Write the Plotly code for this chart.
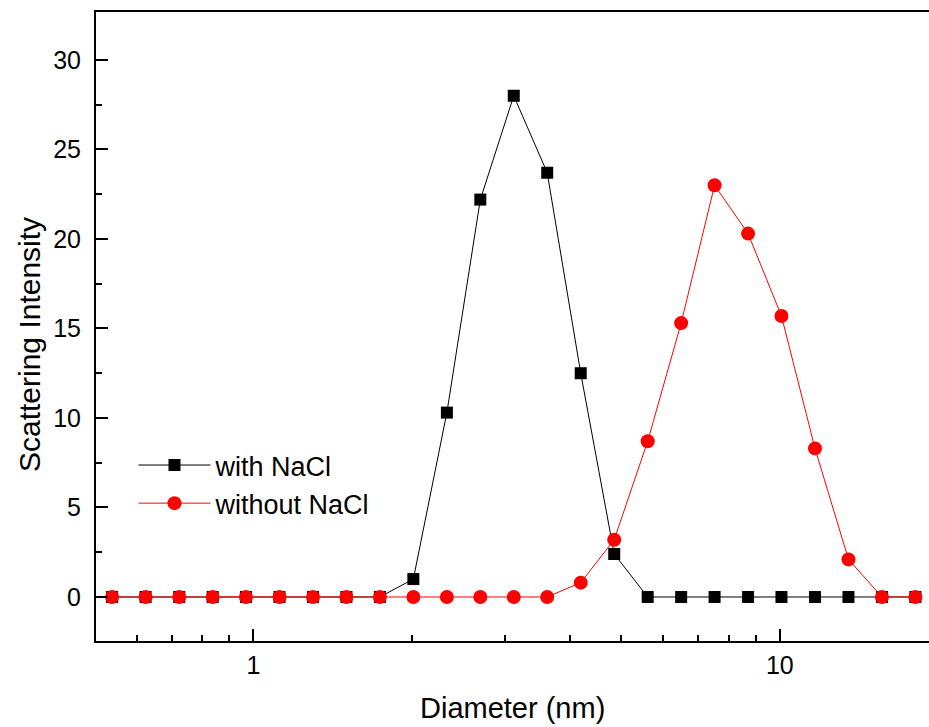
import plotly.graph_objects as go
import numpy as np

# Diameter bins (nm)
diameter = [0.539, 0.624, 0.723, 0.837, 0.968, 1.121, 1.298, 1.502, 1.739, 2.013,
            2.331, 2.698, 3.123, 3.615, 4.186, 4.846, 5.610, 6.494, 7.517, 8.702,
            10.07, 11.66, 13.50, 15.63, 18.09]

with_nacl = [0, 0, 0, 0, 0, 0, 0, 0, 0, 1.0,
             10.3, 22.2, 28.0, 23.7, 12.5, 2.4, 0, 0, 0, 0,
             0, 0, 0, 0, 0]

without_nacl = [0, 0, 0, 0, 0, 0, 0, 0, 0, 0,
                0, 0, 0, 0, 0.8, 3.2, 8.7, 15.3, 23.0, 20.3,
                15.7, 8.3, 2.1, 0, 0]

x_major = [1, 10]
x_minor = [0.6, 0.7, 0.8, 0.9, 2, 3, 4, 5, 6, 7, 8, 9]
y_major = [0, 5, 10, 15, 20, 25, 30]
y_minor = [2.5, 7.5, 12.5, 17.5, 22.5, 27.5]

FONT = "Arial, Liberation Sans, sans-serif"

fig = go.Figure()
fig.add_trace(go.Scatter(
    x=diameter, y=with_nacl, mode="lines+markers", name="with NaCl",
    line=dict(color="#000000", width=1),
    marker=dict(symbol="square", size=12, color="#000000"),
))
fig.add_trace(go.Scatter(
    x=diameter, y=without_nacl, mode="lines+markers", name="without NaCl",
    line=dict(color="#FF0000", width=1),
    marker=dict(symbol="circle", size=14, color="#FF0000"),
))

fig.update_layout(
    width=929, height=727,
    margin=dict(l=96, r=0, t=12, b=86),
    paper_bgcolor="white", plot_bgcolor="white",
    font=dict(family=FONT, color="black"),
    showlegend=True,
    legend=dict(
        x=0.045, y=0.318, xanchor="left", yanchor="top",
        font=dict(size=27, family=FONT), bgcolor="rgba(0,0,0,0)",
        itemwidth=72, tracegroupgap=0,
    ),
)

fig.update_xaxes(
    type="log", range=[np.log10(0.5024), np.log10(19.2)],
    showgrid=False, zeroline=False,
    showline=True, linecolor="black", linewidth=2, mirror=True,
    ticks="inside", ticklen=12, tickwidth=2, tickcolor="black",
    tickvals=x_major, ticktext=[str(v) for v in x_major],
    tickfont=dict(size=25, family=FONT),
    ticklabelstandoff=1,
    minor=dict(tickvals=x_minor, ticks="inside", ticklen=6, tickwidth=2, tickcolor="black", showgrid=False),
)
fig.update_yaxes(
    range=[-2.46, 32.68],
    showgrid=False, zeroline=False,
    showline=True, linecolor="black", linewidth=2, mirror=False,
    ticks="inside", ticklen=12, tickwidth=2, tickcolor="black",
    tickvals=y_major, ticktext=[str(v) for v in y_major],
    tickfont=dict(size=25, family=FONT),
    ticklabelstandoff=8,
    minor=dict(tickvals=y_minor, ticks="inside", ticklen=6, tickwidth=2, tickcolor="black", showgrid=False),
)

fig.add_annotation(
    text="Diameter (nm)", xref="paper", yref="paper",
    x=0.5, y=-0.1065, xanchor="center", yanchor="middle",
    showarrow=False, font=dict(size=29, family=FONT, color="black"),
)
fig.add_annotation(
    text="Scattering Intensity", xref="paper", yref="paper",
    x=-0.0792, y=0.4706, xanchor="center", yanchor="middle", textangle=-90,
    showarrow=False, font=dict(size=30, family=FONT, color="black"),
)

fig.write_html(
    "out.html",
    config={"displayModeBar": False},
    post_script="document.body.style.margin='0';document.body.style.overflow='hidden';",
)
